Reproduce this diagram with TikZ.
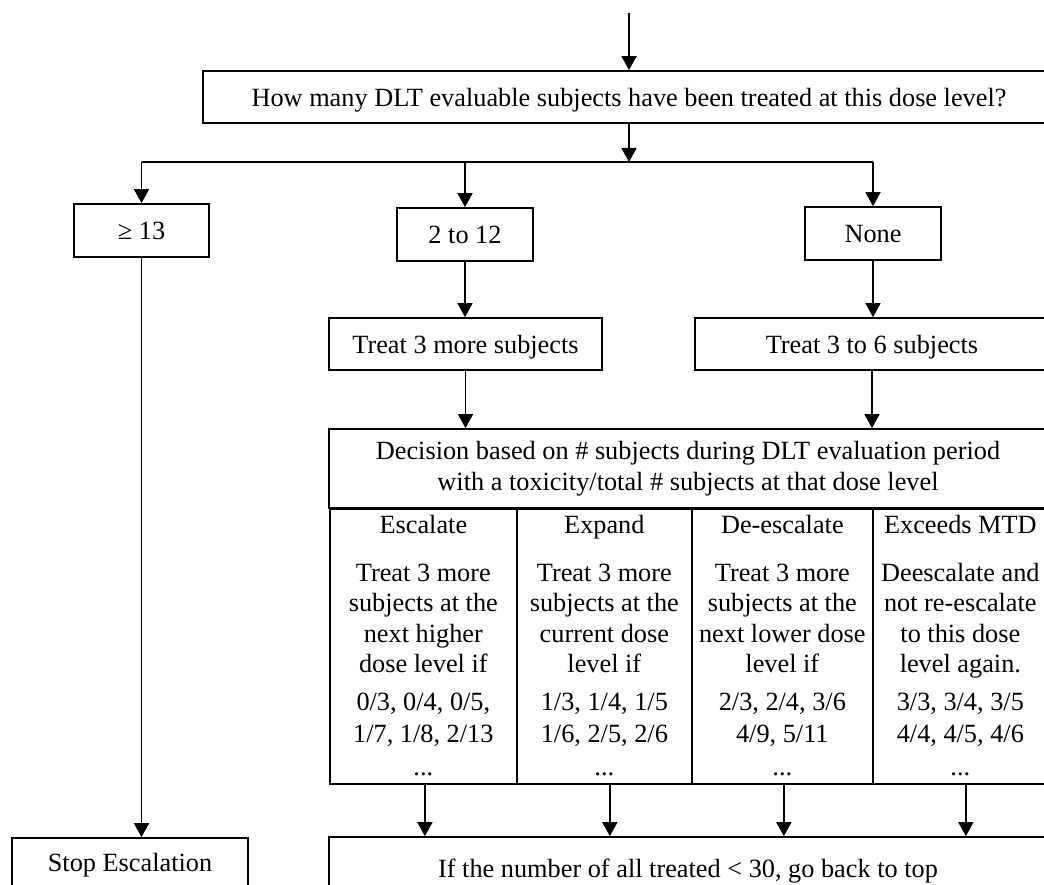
\documentclass[tikz,border=0pt]{standalone}
\usepackage{fontspec}
\setmainfont{Liberation Serif}
\usetikzlibrary{arrows.meta}
\begin{document}
\begin{tikzpicture}[x=1pt,y=-1pt,
  font=\fontsize{26.3}{30.5}\selectfont,
  box/.style={draw, line width=1.7pt, rectangle, inner sep=0pt,
    text height=19pt, text depth=0pt},
  cell/.style={draw, line width=1.7pt, rectangle, inner sep=0pt,
    anchor=north west, minimum height=275pt},
  celltext/.style={anchor=base, inner sep=0pt},
  arr/.style={line width=1.6pt, -{Triangle[width=15pt,length=14pt]}},
  wire/.style={line width=1.6pt}]
\useasboundingbox (0,0) rectangle (1044,885);
\clip (0,0) rectangle (1044,885);

% question and the three answer branches
\coordinate (start) at (629,13);
\node[box, minimum width=852pt, minimum height=52pt] (q) at (629,97)
  {How many DLT evaluable subjects have been treated at this dose level?};
\coordinate (jn) at (629,162);

\node[box, minimum width=135pt, minimum height=53pt] (ge) at (141.5,230.5) {≥ 13};
\node[box, minimum width=136pt, minimum height=53pt] (two) at (465,234.5) {2 to 12};
\node[box, minimum width=136pt, minimum height=53pt] (none) at (873,233.5) {None};

\node[box, minimum width=273pt, minimum height=52pt] (t3m) at (465.5,344) {Treat 3 more subjects};
\node[box, minimum width=354pt, minimum height=52pt] (t36) at (872,344) {Treat 3 to 6 subjects};

% decision table
\node[draw, line width=1.7pt, minimum width=718pt, minimum height=79pt,
  inner sep=0pt, align=center] (dec) at (688,468.5)
  {Decision based on \# subjects during DLT evaluation period\\
   with a toxicity/total \# subjects at that dose level};

\node[cell, minimum width=187pt] (c1) at (329,508) {};
\node[cell, minimum width=175pt] (c2) at (516,508) {};
\node[cell, minimum width=181pt] (c3) at (691,508) {};
\node[cell, minimum width=175pt] (c4) at (872,508) {};

\node[celltext] (t1) at (c1.north |- 0,533) {\begin{tabular}[t]{@{}c@{}}
  Escalate\\[17.5pt]
  Treat 3 more\\ subjects at the\\ next higher\\ dose level if\\[7.5pt]
  0/3, 0/4, 0/5,\\[1.5pt] 1/7, 1/8, 2/13\\[2.5pt] ...\end{tabular}};
\node[celltext] (t2) at (c2.north |- 0,533) {\begin{tabular}[t]{@{}c@{}}
  Expand\\[17.5pt]
  Treat 3 more\\ subjects at the\\ current dose\\ level if\\[7.5pt]
  1/3, 1/4, 1/5\\[1.5pt] 1/6, 2/5, 2/6\\[2.5pt] ...\end{tabular}};
\node[celltext] (t3) at (c3.north |- 0,533) {\begin{tabular}[t]{@{}c@{}}
  De-escalate\\[17.5pt]
  Treat 3 more\\ subjects at the\\ next lower dose\\ level if\\[7.5pt]
  2/3, 2/4, 3/6\\[1.5pt] 4/9, 5/11\\[2.5pt] ...\end{tabular}};
\node[celltext] (t4) at (c4.north |- 0,533) {\begin{tabular}[t]{@{}c@{}}
  Exceeds MTD\\[17.5pt]
  Deescalate and\\ not re-escalate\\ to this dose\\ level again.\\[7.5pt]
  3/3, 3/4, 3/5\\[1.5pt] 4/4, 4/5, 4/6\\[2.5pt] ...\end{tabular}};

% outcomes
\node[box, minimum width=718pt, minimum height=61pt] (bot) at (688,867.5)
  {If the number of all treated < 30, go back to top};
\node[box, minimum width=236pt, minimum height=60pt, text depth=12pt] (stop) at (130,868)
  {Stop Escalation};

% connectors
\draw[arr] (start) -- (q.north);
\draw[arr] (q.south) -- (jn);
\draw[wire] (ge.north |- jn) -- (none.north |- jn);
\draw[arr] (ge.north |- jn) -- (ge.north);
\draw[arr] (two.north |- jn) -- (two.north);
\draw[arr] (none.north |- jn) -- (none.north);
\draw[arr] (ge.south) -- (ge.south |- stop.north);
\draw[arr] (two.south) -- (two.south |- t3m.north);
\draw[arr] (none.south) -- (none.south |- t36.north);
\draw[arr] (t3m.south) -- (t3m.south |- dec.north);
\draw[arr] (t36.south) -- (t36.south |- dec.north);
\draw[arr] ([xshift=1.5pt]c1.south) -- ([xshift=1.5pt]c1.south |- bot.north);
\draw[arr] ([xshift=5.5pt]c2.south) -- ([xshift=5.5pt]c2.south |- bot.north);
\draw[arr] ([xshift=1.5pt]c3.south) -- ([xshift=1.5pt]c3.south |- bot.north);
\draw[arr] ([xshift=5.5pt]c4.south) -- ([xshift=5.5pt]c4.south |- bot.north);
\end{tikzpicture}
\end{document}
